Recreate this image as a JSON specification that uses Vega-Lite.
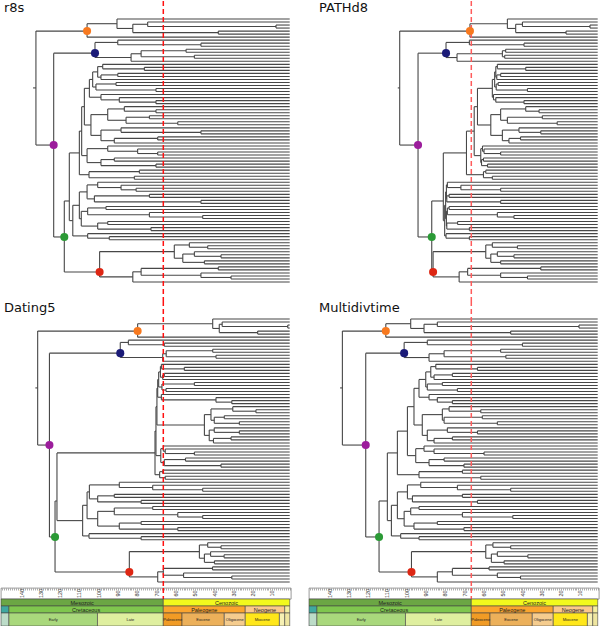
{
"$schema":"https://vega.github.io/schema/vega-lite/v6.json",
"padding":0,
"columns":2,
"spacing":{"row":0,"column":18},
"bounds":"flush",
"config":{"view":{"stroke":null},"title":{"anchor":"start","frame":"group","offset":-15,"baseline":"alphabetic","fontSize":13,"fontWeight":"normal","font":"DejaVu Sans","color":"#111"}},
"datasets":{
"kpg":[{"age":65.5}],
"ticks":[{"t":140},{"t":130},{"t":120},{"t":110},{"t":100},{"t":90},{"t":80},{"t":70},{"t":60},{"t":50},{"t":40},{"t":30},{"t":20},{"t":10}],
"geo":[{"lvl":"era","n":"Mesozoic","s":149.6,"e":65.5},{"lvl":"era","n":"Cenozoic","s":65.5,"e":0},
{"lvl":"per","n":"Jurassic","s":149.6,"e":145.5},{"lvl":"per","n":"Cretaceous","s":145.5,"e":65.5},{"lvl":"per","n":"Paleogene","s":65.5,"e":23.03},{"lvl":"per","n":"Neogene","s":23.03,"e":2.59},{"lvl":"per","n":"Quaternary","s":2.59,"e":0},
{"lvl":"ep","n":"Late Jurassic","s":149.6,"e":145.5},{"lvl":"ep","n":"Early","s":145.5,"e":99.6},{"lvl":"ep","n":"Late","s":99.6,"e":65.5},{"lvl":"ep","n":"Paleocene","s":65.5,"e":55.8},{"lvl":"ep","n":"Eocene","s":55.8,"e":33.9},{"lvl":"ep","n":"Oligocene","s":33.9,"e":23.03},{"lvl":"ep","n":"Miocene","s":23.03,"e":5.33},{"lvl":"ep","n":"Pliocene","s":5.33,"e":2.59},{"lvl":"ep","n":"Pleistocene","s":2.59,"e":0}],
"nodes":[
{"id":"S","p":"S","y":23.8,"l":23.8,"h":23.8,"r":133,"q":103.6,"d":131.8,"v":133.5},
{"id":"R","p":"S","y":23.8,"l":5,"h":42.7,"r":131.5,"q":102.6,"d":130.6,"v":132.3},
{"id":"O","p":"R","y":5,"l":2.56,"h":7,"r":105,"q":66.2,"d":78.8,"v":109.8,"c":"O"},
{"id":"o1","p":"O","y":2.56,"l":1,"h":4.13,"r":89.5,"q":46.8,"d":39.9,"v":96.9},
{"id":"o2","p":"o1","y":4.13,"l":2.75,"h":5.5,"r":81.3,"q":42.5,"d":36.5,"v":90},
{"id":"o3","p":"o2","y":2.75,"l":2,"h":3.5,"r":73.6,"q":39,"d":35,"v":83.1},
{"id":"o4","p":"o3","y":3.5,"l":3,"h":4,"r":7.1,"q":4,"d":1,"v":9.7},
{"id":"o5","p":"o2","y":5.5,"l":5,"h":6,"r":37,"q":16.4,"d":16.6,"v":45.1},
{"id":"P","p":"R","y":42.7,"l":12.3,"h":73.1,"r":122.3,"q":93.1,"d":124.5,"v":120.2,"c":"P"},
{"id":"B","p":"P","y":12.3,"l":8.75,"h":13.75,"r":100.9,"q":78.6,"d":87.8,"v":100.3,"c":"B"},
{"id":"b1","p":"B","y":8.75,"l":8,"h":9.5,"r":89.1,"q":66.5,"d":83.6,"v":88.3},
{"id":"b2","p":"b1","y":9.5,"l":9,"h":10,"r":46,"q":38.2,"d":65,"v":39},
{"id":"b3","p":"B","y":13.75,"l":12.5,"h":15,"r":82.2,"q":72.9,"d":65.8,"v":87.4},
{"id":"b4","p":"b3","y":12.5,"l":11.5,"h":13.5,"r":77,"q":49.4,"d":64,"v":79.6},
{"id":"b5","p":"b4","y":11.5,"l":11,"h":12,"r":53.7,"q":47.7,"d":39.9,"v":50.3},
{"id":"b6","p":"b4","y":13.5,"l":13,"h":14,"r":49.4,"q":48.2,"d":38.2,"v":47.6},
{"id":"G","p":"P","y":73.1,"l":61.2,"h":84.7,"r":116.8,"q":86,"d":121.6,"v":113.3,"c":"G"},
{"id":"Rd","p":"G","y":84.7,"l":77.94,"h":86.31,"r":98.5,"q":85.3,"d":83.1,"v":96.5,"c":"R"},
{"id":"M","p":"G","y":61.2,"l":45.3,"h":67.69,"r":114.2,"q":80,"d":120.6,"v":109},
{"id":"M1","p":"M","y":45.3,"l":38.09,"h":52.5,"r":109,"q":68,"d":69.8,"v":103.8},
{"id":"C1","p":"M1","y":38.09,"l":30,"h":46.19,"r":107.8,"q":64,"d":69.3,"v":98.6},
{"id":"C2","p":"C1","y":30,"l":23.94,"h":36.06,"r":106.4,"q":62.3,"d":68.8,"v":95.2},
{"id":"C3","p":"C2","y":23.94,"l":21,"h":26.88,"r":103.8,"q":54.6,"d":68.4,"v":92.6},
{"id":"S1","p":"C3","y":21,"l":18.5,"h":23.5,"r":102.1,"q":53.4,"d":67.9,"v":89.1},
{"id":"s1a","p":"S1","y":18.5,"l":16.75,"h":20.25,"r":99.5,"q":52.8,"d":67,"v":86.5},
{"id":"s1b","p":"s1a","y":16.75,"l":16,"h":17.5,"r":96.9,"q":52,"d":66.5,"v":83.9},
{"id":"x1","p":"s1b","y":17.5,"l":17,"h":18,"r":75.3,"q":37.3,"d":54.6,"v":62.3},
{"id":"s1c","p":"s1a","y":20.25,"l":19.5,"h":21,"r":97.8,"q":52.3,"d":65.8,"v":84.8},
{"id":"x2","p":"s1c","y":19.5,"l":19,"h":20,"r":89.1,"q":50.3,"d":65,"v":75.3},
{"id":"s1d","p":"S1","y":23.5,"l":22.5,"h":24.5,"r":100.4,"q":52.6,"d":66.2,"v":88.3},
{"id":"x3","p":"s1d","y":22.5,"l":22,"h":23,"r":90,"q":51.6,"d":49.4,"v":80.5},
{"id":"x4","p":"s1d","y":24.5,"l":24,"h":25,"r":69.3,"q":36.4,"d":64.1,"v":72.7},
{"id":"S2","p":"C3","y":26.88,"l":26,"h":27.75,"r":97.8,"q":54,"d":66.5,"v":87.4},
{"id":"x5","p":"S2","y":27.75,"l":27,"h":28.5,"r":88.3,"q":52.8,"d":38.2,"v":83.1},
{"id":"x6","p":"x5","y":28.5,"l":28,"h":29,"r":69.3,"q":38.2,"d":30,"v":75.3},
{"id":"S3","p":"C2","y":36.06,"l":32.63,"h":39.5,"r":103,"q":55.4,"d":44.2,"v":90.9},
{"id":"y1","p":"S3","y":32.63,"l":30.75,"h":34.5,"r":94.3,"q":50.3,"d":40.8,"v":80.5},
{"id":"y3","p":"y1","y":30.75,"l":30,"h":31.5,"r":85.7,"q":37.3,"d":29.5,"v":77},
{"id":"z1","p":"y3","y":31.5,"l":31,"h":32,"r":69.3,"q":30.4,"d":17.5,"v":60.6},
{"id":"y4","p":"y1","y":34.5,"l":33.5,"h":35.5,"r":84.8,"q":46.8,"d":39.1,"v":79.6},
{"id":"z2","p":"y4","y":33.5,"l":33,"h":34,"r":72.7,"q":28.7,"d":33.9,"v":59.8},
{"id":"z3","p":"y4","y":35.5,"l":35,"h":36,"r":58,"q":21,"d":26.1,"v":52},
{"id":"y2","p":"S3","y":39.5,"l":37.75,"h":41.25,"r":97.8,"q":49.4,"d":41.7,"v":88.3},
{"id":"y5","p":"y2","y":37.75,"l":37,"h":38.5,"r":87.4,"q":40.8,"d":39.1,"v":77.9},
{"id":"z4","p":"y5","y":38.5,"l":38,"h":39,"r":46,"q":29.5,"d":26.1,"v":62.3},
{"id":"y6","p":"y2","y":41.25,"l":40.5,"h":42,"r":90.9,"q":46,"d":39.5,"v":84.8},
{"id":"z5","p":"y6","y":40.5,"l":40,"h":41,"r":68.4,"q":40,"d":30.4,"v":75.3},
{"id":"S4","p":"C1","y":46.19,"l":43.88,"h":48.5,"r":105,"q":60.6,"d":66.8,"v":94.3},
{"id":"w1","p":"S4","y":43.88,"l":43,"h":44.75,"r":94.3,"q":59.7,"d":65.5,"v":90},
{"id":"w3","p":"w1","y":44.75,"l":44,"h":45.5,"r":78.8,"q":58.9,"d":64.5,"v":84.8},
{"id":"u1","p":"w3","y":45.5,"l":45,"h":46,"r":68.4,"q":50.3,"d":49.4,"v":58.9},
{"id":"w2","p":"S4","y":48.5,"l":47.5,"h":49.5,"r":97.8,"q":60.2,"d":65,"v":87.4},
{"id":"u2","p":"w2","y":47.5,"l":47,"h":48,"r":90.9,"q":59.2,"d":54,"v":79.6},
{"id":"u3","p":"w2","y":49.5,"l":49,"h":50,"r":69.3,"q":57.1,"d":35.6,"v":69.3},
{"id":"S5","p":"M1","y":52.5,"l":51.5,"h":53.5,"r":104,"q":59.2,"d":67.4,"v":92.6},
{"id":"v1","p":"S5","y":51.5,"l":51,"h":52,"r":77.9,"q":58,"d":65.8,"v":70.1},
{"id":"v2","p":"S5","y":53.5,"l":53,"h":54,"r":80.5,"q":54.6,"d":64.5,"v":60.6},
{"id":"M2","p":"M","y":67.69,"l":62.63,"h":72.75,"r":112.4,"q":79.3,"d":107.3,"v":106.9},
{"id":"N1","p":"M2","y":62.63,"l":58.19,"h":67.06,"r":109,"q":78.8,"d":105,"v":103.8},
{"id":"N3","p":"N1","y":58.19,"l":55.88,"h":60.5,"r":105,"q":78.4,"d":103.8,"v":98.6},
{"id":"n1","p":"N3","y":55.88,"l":55,"h":56.75,"r":99.5,"q":77.9,"d":88.3,"v":91.7},
{"id":"q1","p":"n1","y":56.75,"l":56,"h":57.5,"r":87.4,"q":70.9,"d":71,"v":72.7},
{"id":"q2","p":"q1","y":57.5,"l":57,"h":58,"r":79.6,"q":50.3,"d":45.1,"v":45.1},
{"id":"n2","p":"N3","y":60.5,"l":59.5,"h":61.5,"r":101.2,"q":78.2,"d":99.5,"v":96},
{"id":"q3","p":"n2","y":59.5,"l":59,"h":60,"r":72.7,"q":77,"d":90.9,"v":70.1},
{"id":"q4","p":"n2","y":61.5,"l":61,"h":62,"r":46,"q":50.3,"d":77,"v":62.3},
{"id":"N4","p":"N1","y":67.06,"l":64.63,"h":69.5,"r":108,"q":78.4,"d":99.5,"v":100.3},
{"id":"n3","p":"N4","y":64.63,"l":63.5,"h":65.75,"r":104.7,"q":77.9,"d":90.9,"v":96.9},
{"id":"q5","p":"n3","y":63.5,"l":63,"h":64,"r":95.2,"q":77,"d":71,"v":92.6},
{"id":"q6","p":"n3","y":65.75,"l":65,"h":66.5,"r":72.7,"q":52,"d":58,"v":70.1},
{"id":"q7","p":"q6","y":66.5,"l":66,"h":67,"r":45.1,"q":43.4,"d":45.1,"v":44},
{"id":"n4","p":"N4","y":69.5,"l":68.5,"h":70.5,"r":99.5,"q":78.2,"d":88.3,"v":95.2},
{"id":"q8","p":"n4","y":68.5,"l":68,"h":69,"r":94.3,"q":72.6,"d":77,"v":83.1},
{"id":"q9","p":"n4","y":70.5,"l":70,"h":71,"r":71.9,"q":66.5,"d":58,"v":69.3},
{"id":"N2","p":"M2","y":72.75,"l":72,"h":73.5,"r":104.7,"q":78.6,"d":104,"v":102.1},
{"id":"p1","p":"N2","y":73.5,"l":73,"h":74,"r":93.5,"q":66.5,"d":77,"v":92.6},
{"id":"r1","p":"Rd","y":77.94,"l":75.75,"h":80.13,"r":59.8,"q":58,"d":46.8,"v":58},
{"id":"r3","p":"r1","y":75.75,"l":75,"h":76.5,"r":52,"q":54.6,"d":42.5,"v":54.3},
{"id":"r5","p":"r3","y":76.5,"l":76,"h":77,"r":42.5,"q":41.6,"d":35.6,"v":45.1},
{"id":"r4","p":"r1","y":80.13,"l":78.75,"h":81.5,"r":55.4,"q":55.4,"d":44.2,"v":55.1},
{"id":"r6","p":"r4","y":78.75,"l":78,"h":79.5,"r":49.4,"q":52,"d":41,"v":52},
{"id":"r7","p":"r6","y":79.5,"l":79,"h":80,"r":35.6,"q":43.4,"d":34,"v":36.2},
{"id":"r8","p":"r4","y":81.5,"l":81,"h":82,"r":44.2,"q":50.3,"d":39,"v":48.5},
{"id":"r2","p":"Rd","y":86.31,"l":84.63,"h":88,"r":81.3,"q":71.8,"d":68.4,"v":83.1},
{"id":"r10","p":"r2","y":84.63,"l":83.5,"h":85.75,"r":77,"q":67.4,"d":65.5,"v":75.3},
{"id":"r11","p":"r10","y":83.5,"l":83,"h":84,"r":37,"q":29.5,"d":40,"v":56.3},
{"id":"r12","p":"r10","y":85.75,"l":85,"h":86.5,"r":46,"q":50.3,"d":55,"v":52},
{"id":"r13","p":"r12","y":86.5,"l":86,"h":87,"r":30.4,"q":36.4,"d":30,"v":40}
],
"tips":[{"p":"o1","y":1},{"p":"o3","y":2},{"p":"o4","y":3},{"p":"o4","y":4},{"p":"o5","y":5},{"p":"o5","y":6},{"p":"O","y":7},
{"p":"b1","y":8},{"p":"b2","y":9},{"p":"b2","y":10},{"p":"b5","y":11},{"p":"b5","y":12},{"p":"b6","y":13},{"p":"b6","y":14},{"p":"b3","y":15},
{"p":"s1b","y":16},{"p":"x1","y":17},{"p":"x1","y":18},{"p":"x2","y":19},{"p":"x2","y":20},{"p":"s1c","y":21},{"p":"x3","y":22},{"p":"x3","y":23},{"p":"x4","y":24},{"p":"x4","y":25},
{"p":"S2","y":26},{"p":"x5","y":27},{"p":"x6","y":28},{"p":"x6","y":29},
{"p":"y3","y":30},{"p":"z1","y":31},{"p":"z1","y":32},{"p":"z2","y":33},{"p":"z2","y":34},{"p":"z3","y":35},{"p":"z3","y":36},{"p":"y5","y":37},{"p":"z4","y":38},{"p":"z4","y":39},{"p":"z5","y":40},{"p":"z5","y":41},{"p":"y6","y":42},
{"p":"w1","y":43},{"p":"w3","y":44},{"p":"u1","y":45},{"p":"u1","y":46},{"p":"u2","y":47},{"p":"u2","y":48},{"p":"u3","y":49},{"p":"u3","y":50},
{"p":"v1","y":51},{"p":"v1","y":52},{"p":"v2","y":53},{"p":"v2","y":54},
{"p":"n1","y":55},{"p":"q1","y":56},{"p":"q2","y":57},{"p":"q2","y":58},{"p":"q3","y":59},{"p":"q3","y":60},{"p":"q4","y":61},{"p":"q4","y":62},{"p":"q5","y":63},{"p":"q5","y":64},{"p":"q6","y":65},{"p":"q7","y":66},{"p":"q7","y":67},{"p":"q8","y":68},{"p":"q8","y":69},{"p":"q9","y":70},{"p":"q9","y":71},{"p":"N2","y":72},{"p":"p1","y":73},{"p":"p1","y":74},
{"p":"r3","y":75},{"p":"r5","y":76},{"p":"r5","y":77},{"p":"r6","y":78},{"p":"r7","y":79},{"p":"r7","y":80},{"p":"r8","y":81},{"p":"r8","y":82},{"p":"r11","y":83},{"p":"r11","y":84},{"p":"r12","y":85},{"p":"r13","y":86},{"p":"r13","y":87},{"p":"r2","y":88}]
},
"concat":[
{"width":290,"height":300,"title":{"text":"r8s","dx":3},
"layer":[
{"data":{"name":"tips"},"transform":[{"lookup":"p","from":{"data":{"name":"nodes"},"key":"id","fields":["r"]},"as":["pr"]}],"mark":{"type":"rule","color":"#474747","strokeWidth":1.1},
"encoding":{"x":{"field":"pr","type":"quantitative","scale":{"domain":[149.6,-0.67],"nice":false,"zero":false},"axis":null},"x2":{"datum":0},"y":{"field":"y","type":"quantitative","scale":{"domain":[-4.95,94.28],"reverse":true,"nice":false,"zero":false},"axis":null}}},
{"data":{"name":"nodes"},"transform":[{"lookup":"p","from":{"data":{"name":"nodes"},"key":"id","fields":["r"]},"as":["pr"]}],"mark":{"type":"rule","color":"#474747","strokeWidth":1.1},
"encoding":{"x":{"field":"pr","type":"quantitative","axis":null},"x2":{"field":"r"},"y":{"field":"y","type":"quantitative","axis":null}}},
{"data":{"name":"nodes"},"mark":{"type":"rule","color":"#474747","strokeWidth":1.1},
"encoding":{"x":{"field":"r","type":"quantitative","axis":null},"y":{"field":"l","type":"quantitative","axis":null},"y2":{"field":"h"}}},
{"data":{"name":"kpg"},"mark":{"type":"rule","color":"#ff1010","strokeDash":[5,3],"strokeWidth":1.5},"encoding":{"x":{"field":"age","type":"quantitative","axis":null}}},
{"data":{"name":"nodes"},"transform":[{"filter":"datum.c != null"}],"mark":{"type":"circle","size":65,"opacity":1},
"encoding":{"x":{"field":"r","type":"quantitative","axis":null},"y":{"field":"y","type":"quantitative","axis":null},"color":{"field":"c","type":"nominal","scale":{"domain":["O","B","P","G","R"],"range":["#f7791f","#1b1b78","#9c1d9c","#2b9a36","#dd2613"]},"legend":null}}}
]},
{"width":290,"height":300,"title":{"text":"PATHd8","dx":10},
"layer":[
{"data":{"name":"tips"},"transform":[{"lookup":"p","from":{"data":{"name":"nodes"},"key":"id","fields":["q"]},"as":["pq"]}],"mark":{"type":"rule","color":"#474747","strokeWidth":1.1},
"encoding":{"x":{"field":"pq","type":"quantitative","scale":{"domain":[149.6,-0.67],"nice":false,"zero":false},"axis":null},"x2":{"datum":0},"y":{"field":"y","type":"quantitative","scale":{"domain":[-4.95,94.28],"reverse":true,"nice":false,"zero":false},"axis":null}}},
{"data":{"name":"nodes"},"transform":[{"lookup":"p","from":{"data":{"name":"nodes"},"key":"id","fields":["q"]},"as":["pq"]}],"mark":{"type":"rule","color":"#474747","strokeWidth":1.1},
"encoding":{"x":{"field":"pq","type":"quantitative","axis":null},"x2":{"field":"q"},"y":{"field":"y","type":"quantitative","axis":null}}},
{"data":{"name":"nodes"},"mark":{"type":"rule","color":"#474747","strokeWidth":1.1},
"encoding":{"x":{"field":"q","type":"quantitative","axis":null},"y":{"field":"l","type":"quantitative","axis":null},"y2":{"field":"h"}}},
{"data":{"name":"kpg"},"mark":{"type":"rule","color":"#ff5c5c","strokeDash":[5,3],"strokeWidth":1.5},"encoding":{"x":{"field":"age","type":"quantitative","axis":null}}},
{"data":{"name":"nodes"},"transform":[{"filter":"datum.c != null"}],"mark":{"type":"circle","size":65,"opacity":1},
"encoding":{"x":{"field":"q","type":"quantitative","axis":null},"y":{"field":"y","type":"quantitative","axis":null},"color":{"field":"c","type":"nominal","scale":{"domain":["O","B","P","G","R"],"range":["#f7791f","#1b1b78","#9c1d9c","#2b9a36","#dd2613"]},"legend":null}}}
]},
{"width":290,"height":287,"title":{"text":"Dating5","dx":3},
"layer":[
{"data":{"name":"tips"},"transform":[{"lookup":"p","from":{"data":{"name":"nodes"},"key":"id","fields":["d"]},"as":["pd"]}],"mark":{"type":"rule","color":"#474747","strokeWidth":1.1},
"encoding":{"x":{"field":"pd","type":"quantitative","scale":{"domain":[149.6,-0.67],"nice":false,"zero":false},"axis":null},"x2":{"datum":0},"y":{"field":"y","type":"quantitative","scale":{"domain":[-4.95,89.98],"reverse":true,"nice":false,"zero":false},"axis":null}}},
{"data":{"name":"nodes"},"transform":[{"lookup":"p","from":{"data":{"name":"nodes"},"key":"id","fields":["d"]},"as":["pd"]}],"mark":{"type":"rule","color":"#474747","strokeWidth":1.1},
"encoding":{"x":{"field":"pd","type":"quantitative","axis":null},"x2":{"field":"d"},"y":{"field":"y","type":"quantitative","axis":null}}},
{"data":{"name":"nodes"},"mark":{"type":"rule","color":"#474747","strokeWidth":1.1},
"encoding":{"x":{"field":"d","type":"quantitative","axis":null},"y":{"field":"l","type":"quantitative","axis":null},"y2":{"field":"h"}}},
{"data":{"name":"kpg"},"mark":{"type":"rule","color":"#ff1010","strokeDash":[5,3],"strokeWidth":1.5},"encoding":{"x":{"field":"age","type":"quantitative","axis":null}}},
{"data":{"name":"nodes"},"transform":[{"filter":"datum.c != null"}],"mark":{"type":"circle","size":65,"opacity":1},
"encoding":{"x":{"field":"d","type":"quantitative","axis":null},"y":{"field":"y","type":"quantitative","axis":null},"color":{"field":"c","type":"nominal","scale":{"domain":["O","B","P","G","R"],"range":["#f7791f","#1b1b78","#9c1d9c","#2b9a36","#dd2613"]},"legend":null}}}
]},
{"width":290,"height":287,"title":{"text":"Multidivtime","dx":10},
"layer":[
{"data":{"name":"tips"},"transform":[{"lookup":"p","from":{"data":{"name":"nodes"},"key":"id","fields":["v"]},"as":["pv"]}],"mark":{"type":"rule","color":"#474747","strokeWidth":1.1},
"encoding":{"x":{"field":"pv","type":"quantitative","scale":{"domain":[149.6,-0.67],"nice":false,"zero":false},"axis":null},"x2":{"datum":0},"y":{"field":"y","type":"quantitative","scale":{"domain":[-4.95,89.98],"reverse":true,"nice":false,"zero":false},"axis":null}}},
{"data":{"name":"nodes"},"transform":[{"lookup":"p","from":{"data":{"name":"nodes"},"key":"id","fields":["v"]},"as":["pv"]}],"mark":{"type":"rule","color":"#474747","strokeWidth":1.1},
"encoding":{"x":{"field":"pv","type":"quantitative","axis":null},"x2":{"field":"v"},"y":{"field":"y","type":"quantitative","axis":null}}},
{"data":{"name":"nodes"},"mark":{"type":"rule","color":"#474747","strokeWidth":1.1},
"encoding":{"x":{"field":"v","type":"quantitative","axis":null},"y":{"field":"l","type":"quantitative","axis":null},"y2":{"field":"h"}}},
{"data":{"name":"kpg"},"mark":{"type":"rule","color":"#ff5c5c","strokeDash":[5,3],"strokeWidth":1.5},"encoding":{"x":{"field":"age","type":"quantitative","axis":null}}},
{"data":{"name":"nodes"},"transform":[{"filter":"datum.c != null"}],"mark":{"type":"circle","size":65,"opacity":1},
"encoding":{"x":{"field":"v","type":"quantitative","axis":null},"y":{"field":"y","type":"quantitative","axis":null},"color":{"field":"c","type":"nominal","scale":{"domain":["O","B","P","G","R"],"range":["#f7791f","#1b1b78","#9c1d9c","#2b9a36","#dd2613"]},"legend":null}}}
]},
{"width":290,"height":11,"view":{"stroke":"#555","strokeWidth":0.6},
"layer":[
{"data":{"name":"kpg"},"mark":{"type":"rule","color":"#ff1010","strokeDash":[5,3],"strokeWidth":1.5},"encoding":{"x":{"field":"age","type":"quantitative","scale":{"domain":[149.6,-0.67],"nice":false,"zero":false},"axis":{"orient":"top","tickCount":150,"tickSize":-2,"labels":false,"domain":false,"grid":false,"title":null,"tickColor":"#777","tickWidth":0.6}}}},
{"data":{"name":"ticks"},"mark":{"type":"text","angle":270,"baseline":"top","align":"center","fontSize":5.5,"font":"Liberation Sans","color":"#333"},"encoding":{"x":{"field":"t","type":"quantitative","axis":{"orient":"top","tickCount":150,"tickSize":-2,"labels":false,"domain":false,"grid":false,"title":null,"tickColor":"#777","tickWidth":0.6}},"text":{"field":"t","type":"quantitative"}}}
]},
{"width":290,"height":11,"view":{"stroke":"#555","strokeWidth":0.6},
"layer":[
{"data":{"name":"kpg"},"mark":{"type":"rule","color":"#ff5c5c","strokeDash":[5,3],"strokeWidth":1.5},"encoding":{"x":{"field":"age","type":"quantitative","scale":{"domain":[149.6,-0.67],"nice":false,"zero":false},"axis":{"orient":"top","tickCount":150,"tickSize":-2,"labels":false,"domain":false,"grid":false,"title":null,"tickColor":"#777","tickWidth":0.6}}}},
{"data":{"name":"ticks"},"mark":{"type":"text","angle":270,"baseline":"top","align":"center","fontSize":5.5,"font":"Liberation Sans","color":"#333"},"encoding":{"x":{"field":"t","type":"quantitative","axis":{"orient":"top","tickCount":150,"tickSize":-2,"labels":false,"domain":false,"grid":false,"title":null,"tickColor":"#777","tickWidth":0.6}},"text":{"field":"t","type":"quantitative"}}}
]},
{"width":290,"height":7,"data":{"name":"geo"},"transform":[{"filter":"datum.lvl==='era'"}],
"layer":[
{"mark":{"type":"rect","stroke":"#444","strokeWidth":0.6},"encoding":{"x":{"field":"s","type":"quantitative","scale":{"domain":[149.6,-0.67],"nice":false,"zero":false},"axis":null},"x2":{"field":"e"},"fill":{"field":"n","type":"nominal","scale":{"domain":["Mesozoic","Cenozoic","Jurassic","Cretaceous","Paleogene","Neogene","Quaternary","Late Jurassic","Early","Late","Paleocene","Eocene","Oligocene","Miocene","Pliocene","Pleistocene"],"range":["#6ba644","#f2f91d","#3fa8a0","#7fc64e","#fba52e","#fcc98c","#f5efa0","#bcdcc8","#a9d87c","#dfef9f","#f19b25","#ecb05a","#f5cc8e","#ffe71a","#f6f0b3","#efe6a0"]},"legend":null}}},
{"transform":[{"filter":"datum.s - datum.e > 8"},{"fold":["s","e"],"as":["k","val"]}],"mark":{"type":"text","fontSize":5.5,"font":"Liberation Sans","color":"#222"},"encoding":{"x":{"aggregate":"mean","field":"val","type":"quantitative","axis":null},"text":{"field":"n","type":"nominal"}}}
]},
{"width":290,"height":7,"data":{"name":"geo"},"transform":[{"filter":"datum.lvl==='era'"}],
"layer":[
{"mark":{"type":"rect","stroke":"#444","strokeWidth":0.6},"encoding":{"x":{"field":"s","type":"quantitative","scale":{"domain":[149.6,-0.67],"nice":false,"zero":false},"axis":null},"x2":{"field":"e"},"fill":{"field":"n","type":"nominal","scale":{"domain":["Mesozoic","Cenozoic","Jurassic","Cretaceous","Paleogene","Neogene","Quaternary","Late Jurassic","Early","Late","Paleocene","Eocene","Oligocene","Miocene","Pliocene","Pleistocene"],"range":["#6ba644","#f2f91d","#3fa8a0","#7fc64e","#fba52e","#fcc98c","#f5efa0","#bcdcc8","#a9d87c","#dfef9f","#f19b25","#ecb05a","#f5cc8e","#ffe71a","#f6f0b3","#efe6a0"]},"legend":null}}},
{"transform":[{"filter":"datum.s - datum.e > 8"},{"fold":["s","e"],"as":["k","val"]}],"mark":{"type":"text","fontSize":5.5,"font":"Liberation Sans","color":"#222"},"encoding":{"x":{"aggregate":"mean","field":"val","type":"quantitative","axis":null},"text":{"field":"n","type":"nominal"}}}
]},
{"width":290,"height":7,"data":{"name":"geo"},"transform":[{"filter":"datum.lvl==='per'"}],
"layer":[
{"mark":{"type":"rect","stroke":"#444","strokeWidth":0.6},"encoding":{"x":{"field":"s","type":"quantitative","scale":{"domain":[149.6,-0.67],"nice":false,"zero":false},"axis":null},"x2":{"field":"e"},"fill":{"field":"n","type":"nominal","scale":{"domain":["Mesozoic","Cenozoic","Jurassic","Cretaceous","Paleogene","Neogene","Quaternary","Late Jurassic","Early","Late","Paleocene","Eocene","Oligocene","Miocene","Pliocene","Pleistocene"],"range":["#6ba644","#f2f91d","#3fa8a0","#7fc64e","#fba52e","#fcc98c","#f5efa0","#bcdcc8","#a9d87c","#dfef9f","#f19b25","#ecb05a","#f5cc8e","#ffe71a","#f6f0b3","#efe6a0"]},"legend":null}}},
{"transform":[{"filter":"datum.s - datum.e > 8"},{"fold":["s","e"],"as":["k","val"]}],"mark":{"type":"text","fontSize":5.5,"font":"Liberation Sans","color":"#222"},"encoding":{"x":{"aggregate":"mean","field":"val","type":"quantitative","axis":null},"text":{"field":"n","type":"nominal"}}}
]},
{"width":290,"height":7,"data":{"name":"geo"},"transform":[{"filter":"datum.lvl==='per'"}],
"layer":[
{"mark":{"type":"rect","stroke":"#444","strokeWidth":0.6},"encoding":{"x":{"field":"s","type":"quantitative","scale":{"domain":[149.6,-0.67],"nice":false,"zero":false},"axis":null},"x2":{"field":"e"},"fill":{"field":"n","type":"nominal","scale":{"domain":["Mesozoic","Cenozoic","Jurassic","Cretaceous","Paleogene","Neogene","Quaternary","Late Jurassic","Early","Late","Paleocene","Eocene","Oligocene","Miocene","Pliocene","Pleistocene"],"range":["#6ba644","#f2f91d","#3fa8a0","#7fc64e","#fba52e","#fcc98c","#f5efa0","#bcdcc8","#a9d87c","#dfef9f","#f19b25","#ecb05a","#f5cc8e","#ffe71a","#f6f0b3","#efe6a0"]},"legend":null}}},
{"transform":[{"filter":"datum.s - datum.e > 8"},{"fold":["s","e"],"as":["k","val"]}],"mark":{"type":"text","fontSize":5.5,"font":"Liberation Sans","color":"#222"},"encoding":{"x":{"aggregate":"mean","field":"val","type":"quantitative","axis":null},"text":{"field":"n","type":"nominal"}}}
]},
{"width":290,"height":13,"data":{"name":"geo"},"transform":[{"filter":"datum.lvl==='ep'"}],
"layer":[
{"mark":{"type":"rect","stroke":"#444","strokeWidth":0.6},"encoding":{"x":{"field":"s","type":"quantitative","scale":{"domain":[149.6,-0.67],"nice":false,"zero":false},"axis":null},"x2":{"field":"e"},"fill":{"field":"n","type":"nominal","scale":{"domain":["Mesozoic","Cenozoic","Jurassic","Cretaceous","Paleogene","Neogene","Quaternary","Late Jurassic","Early","Late","Paleocene","Eocene","Oligocene","Miocene","Pliocene","Pleistocene"],"range":["#6ba644","#f2f91d","#3fa8a0","#7fc64e","#fba52e","#fcc98c","#f5efa0","#bcdcc8","#a9d87c","#dfef9f","#f19b25","#ecb05a","#f5cc8e","#ffe71a","#f6f0b3","#efe6a0"]},"legend":null}}},
{"transform":[{"filter":"datum.s - datum.e > 6"},{"fold":["s","e"],"as":["k","val"]}],"mark":{"type":"text","fontSize":4,"font":"Liberation Sans","color":"#222"},"encoding":{"x":{"aggregate":"mean","field":"val","type":"quantitative","axis":null},"text":{"field":"n","type":"nominal"}}}
]},
{"width":290,"height":13,"data":{"name":"geo"},"transform":[{"filter":"datum.lvl==='ep'"}],
"layer":[
{"mark":{"type":"rect","stroke":"#444","strokeWidth":0.6},"encoding":{"x":{"field":"s","type":"quantitative","scale":{"domain":[149.6,-0.67],"nice":false,"zero":false},"axis":null},"x2":{"field":"e"},"fill":{"field":"n","type":"nominal","scale":{"domain":["Mesozoic","Cenozoic","Jurassic","Cretaceous","Paleogene","Neogene","Quaternary","Late Jurassic","Early","Late","Paleocene","Eocene","Oligocene","Miocene","Pliocene","Pleistocene"],"range":["#6ba644","#f2f91d","#3fa8a0","#7fc64e","#fba52e","#fcc98c","#f5efa0","#bcdcc8","#a9d87c","#dfef9f","#f19b25","#ecb05a","#f5cc8e","#ffe71a","#f6f0b3","#efe6a0"]},"legend":null}}},
{"transform":[{"filter":"datum.s - datum.e > 6"},{"fold":["s","e"],"as":["k","val"]}],"mark":{"type":"text","fontSize":4,"font":"Liberation Sans","color":"#222"},"encoding":{"x":{"aggregate":"mean","field":"val","type":"quantitative","axis":null},"text":{"field":"n","type":"nominal"}}}
]}
]
}
